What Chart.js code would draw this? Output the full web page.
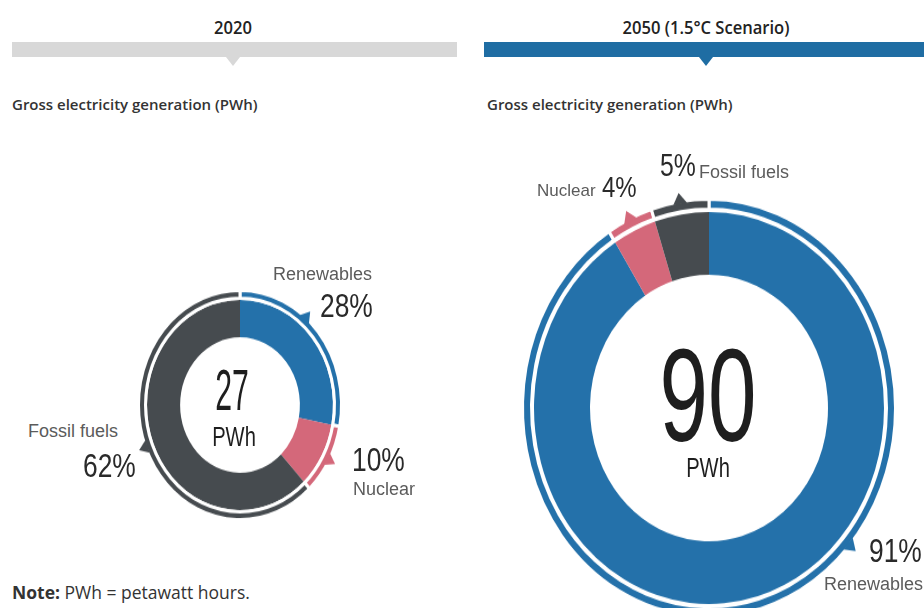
<!DOCTYPE html>
<html>
<head>
<meta charset="utf-8">
<script src="https://cdn.jsdelivr.net/npm/chart.js@4.4.1/dist/chart.umd.min.js"></script>
<style>
  html, body { margin: 0; padding: 0; background: #fff; }
  body { width: 924px; height: 608px; position: relative; overflow: hidden; font-family: "Open Sans", "Liberation Sans", sans-serif; color: #333; }
  .abs { position: absolute; white-space: nowrap; }
  .head { top: 15px; font-weight: 600; font-size: 18px; line-height: 24px; color: #222; transform: translateX(-50%) scaleX(0.92); }
  .bar { top: 42px; height: 15px; }
  .tip { top: 57px; width: 0; height: 0; border-left: 7px solid transparent; border-right: 7px solid transparent; transform: translateX(-50%); }
  .sub { top: 93px; font-weight: 600; font-size: 15px; line-height: 22px; color: #333; }
  .wrap { position: absolute; }
  .name { font-family: "Liberation Sans", Arial, sans-serif; font-size: 18px; color: #5b5b5b; transform: translateY(-50%); }
  .pct { font-family: "Liberation Sans", Arial, sans-serif; font-size: 33px; color: #2a2a2a; transform-origin: 0 50%; transform: translateY(-50%) scaleX(0.8); }
  .big { font-family: "Liberation Sans", Arial, sans-serif; color: #1e1e1e; line-height: 1; }
  .note { left: 12px; top: 580px; font-size: 17.5px; line-height: 24px; color: #333; }
</style>
</head>
<body>
  <div class="abs head" style="left:233px">2020</div>
  <div class="abs head" style="left:706px">2050 (1.5°C Scenario)</div>
  <div class="abs bar" style="left:12px;width:445px;background:#d8d8d8"></div>
  <div class="abs tip" style="left:233px;border-top:9px solid #d8d8d8"></div>
  <div class="abs bar" style="left:484px;width:440px;background:#1f6da3"></div>
  <div class="abs tip" style="left:706px;border-top:9px solid #1f6da3"></div>
  <div class="abs sub" style="left:12px">Gross electricity generation (PWh)</div>
  <div class="abs sub" style="left:487px">Gross electricity generation (PWh)</div>

  <div class="wrap" style="left:125px;top:290px;width:230px;height:230px;transform:scaleY(1.13)"><canvas id="c2020"></canvas></div>
  <div class="wrap" style="left:507px;top:206px;width:404px;height:404px;transform:scaleY(1.12)"><canvas id="c2050"></canvas></div>

  <!-- 2020 labels -->
  <div class="abs name" id="l20n0" style="left:273px;top:274px"></div>
  <div class="abs pct" id="l20p0" style="left:320px;top:306px"></div>
  <div class="abs name" id="l20n2" style="left:28px;top:431px"></div>
  <div class="abs pct" id="l20p2" style="left:83px;top:466px"></div>
  <div class="abs pct" id="l20p1" style="left:352px;top:460px"></div>
  <div class="abs name" id="l20n1" style="left:353px;top:489px"></div>
  <div class="abs big" id="t2020" style="left:232px;top:390px;font-size:57px;transform:translate(-50%,-50%) scaleX(0.53)"></div>
  <div class="abs big" style="left:234px;top:437px;font-size:28px;transform:translate(-50%,-50%) scaleX(0.72)">PWh</div>

  <!-- 2050 labels -->
  <div class="abs name" id="l50n1" style="left:537px;top:191px;font-size:17px"></div>
  <div class="abs pct" id="l50p1" style="left:602px;top:187px;font-size:30px"></div>
  <div class="abs pct" id="l50p2" style="left:660px;top:166px;font-size:31px"></div>
  <div class="abs name" id="l50n2" style="left:699px;top:172px"></div>
  <div class="abs pct" id="l50p0" style="left:869px;top:551px"></div>
  <div class="abs name" id="l50n0" style="left:824px;top:584px"></div>
  <div class="abs big" id="t2050" style="left:708px;top:396px;font-size:132px;transform:translate(-50%,-50%) scaleX(0.66)"></div>
  <div class="abs big" style="left:708px;top:468px;font-size:28px;transform:translate(-50%,-50%) scaleX(0.72)">PWh</div>

  <div class="abs note"><b>Note:</b> PWh = petawatt hours.</div>

<script>
const categories = ['Renewables', 'Nuclear', 'Fossil fuels'];
const share2020 = [28, 10, 62];
const share2050 = [91, 4, 5];
const total2020 = 27;
const total2050 = 90;
const colors = ['#2471aa', '#d4687a', '#464b4f'];

// small triangles sitting on the outer thin ring
const ringPointers = {
  id: 'ringPointers',
  afterDatasetsDraw(chart, args, opts) {
    const ctx = chart.ctx;
    chart.getDatasetMeta(0).data.forEach((arc, i) => {
      const p = arc.getProps(['x', 'y', 'startAngle', 'endAngle', 'outerRadius'], true);
      const a = p.startAngle + (p.endAngle - p.startAngle) * opts.at[i];
      const r0 = p.outerRadius - 2;
      const r1 = p.outerRadius + opts.size;
      const half = opts.width / 2 / r0;
      ctx.save();
      ctx.fillStyle = colors[i];
      ctx.beginPath();
      ctx.moveTo(p.x + Math.cos(a - half) * r0, p.y + Math.sin(a - half) * r0);
      ctx.lineTo(p.x + Math.cos(a) * r1, p.y + Math.sin(a) * r1);
      ctx.lineTo(p.x + Math.cos(a + half) * r0, p.y + Math.sin(a + half) * r0);
      ctx.closePath();
      ctx.fill();
      ctx.restore();
    });
  }
};

function makeDonut(id, shares, cfg) {
  const ctx = document.getElementById(id).getContext('2d');
  return new Chart(ctx, {
    type: 'doughnut',
    data: {
      labels: categories,
      datasets: [
        { data: shares, backgroundColor: colors, borderColor: '#fff', borderWidth: 3, hoverBorderWidth: 3, weight: cfg.ringW },
        { data: [1], backgroundColor: 'rgba(0,0,0,0)', borderWidth: 0, weight: cfg.gapW },
        { data: shares, backgroundColor: colors, borderWidth: 0, hoverBorderWidth: 0, weight: cfg.mainW }
      ]
    },
    options: {
      responsive: true,
      maintainAspectRatio: false,
      animation: false,
      events: [],
      cutout: cfg.cutout,
      layout: { padding: cfg.padding },
      plugins: {
        legend: { display: false },
        tooltip: { enabled: false },
        ringPointers: { at: cfg.pointerAt, size: cfg.tipSize, width: cfg.tipWidth }
      }
    },
    plugins: [ringPointers]
  });
}

makeDonut('c2020', share2020, { ringW: 7, gapW: 1.5, mainW: 33, cutout: '59%', padding: 12, pointerAt: [0.4, 0.5, 0.5], tipSize: 7, tipWidth: 12 });
makeDonut('c2050', share2050, { ringW: 9, gapW: 2.5, mainW: 56, cutout: '63.8%', padding: 14, pointerAt: [0.4, 0.5, 0.5], tipSize: 8, tipWidth: 14 });

const set = (id, txt) => { document.getElementById(id).textContent = txt; };
categories.forEach((c, i) => {
  set('l20n' + i, c);
  set('l20p' + i, share2020[i] + '%');
  set('l50n' + i, c);
  set('l50p' + i, share2050[i] + '%');
});
set('t2020', total2020);
set('t2050', total2050);
</script>
</body>
</html>
